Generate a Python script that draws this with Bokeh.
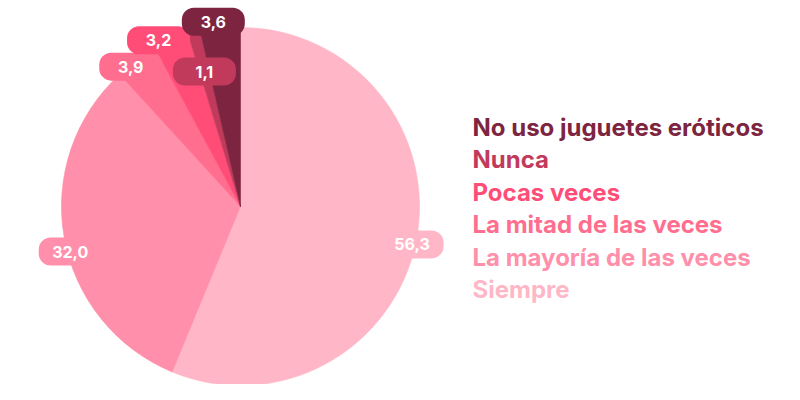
import math
from bokeh.plotting import figure
from bokeh.models import Range1d, ColumnDataSource, Rect
from bokeh.core.properties import value
from bokeh.embed import file_html
from bokeh.resources import INLINE

# ---- data ----
categories = ["Siempre", "La mayoría de las veces", "La mitad de las veces",
              "Pocas veces", "Nunca", "No uso juguetes eróticos"]
values = [56.3, 32.0, 3.9, 3.2, 1.1, 3.6]
value_labels = ["56,3", "32,0", "3,9", "3,2", "1,1", "3,6"]
colors = ["#FFB7C7", "#FF8FAA", "#FF6E8F", "#FF4D78", "#C23A5B", "#7D2540"]

# ---- layout ----
W, H = 784, 384
CX, CY, R = 240, 194, 179
label_dx = [-4, 6, -6, -13, 10, -7]
label_dy = [-3, -14, -6, 1, -38, 7]
BOX_W, BOX_H, BOX_RAD = 63, 28, 12
FONT = "Inter"

p = figure(width=W, height=H, output_backend="svg", toolbar_location=None,
           x_range=Range1d(0, W), y_range=Range1d(400 - H, 400),
           min_border=0)
p.axis.visible = False
p.grid.visible = False
p.outline_line_color = None
p.background_fill_color = "white"
p.border_fill_color = "white"

total = sum(values)
starts, ends, mids = [], [], []
acc = 0.0
for v in values:
    t0 = acc / total * 360.0
    acc += v
    t1 = acc / total * 360.0
    starts.append(90.0 - t0)
    ends.append(90.0 - t1)
    mids.append(90.0 - (t0 + t1) / 2.0)

src = ColumnDataSource(dict(start=starts, end=ends, color=colors, cat=categories))
p.wedge(x=CX, y=CY, radius=R, start_angle="start", end_angle="end",
        start_angle_units="deg", end_angle_units="deg", direction="clock",
        fill_color="color", line_color="color", line_width=0.6, source=src)

lx = [CX + R * math.cos(math.radians(m)) + dx for m, dx in zip(mids, label_dx)]
ly = [CY + R * math.sin(math.radians(m)) + dy for m, dy in zip(mids, label_dy)]
lsrc = ColumnDataSource(dict(x=lx, y=ly, color=colors, txt=value_labels))

if "border_radius" in Rect.properties():
    p.rect(x="x", y="y", width=BOX_W, height=BOX_H, fill_color="color",
           line_color=None, border_radius=BOX_RAD, source=lsrc)
else:
    p.rect(x="x", y="y", width=BOX_W - BOX_H, height=BOX_H, fill_color="color",
           line_color=None, source=lsrc)
    lxl = [x - (BOX_W - BOX_H) / 2 for x in lx]
    lxr = [x + (BOX_W - BOX_H) / 2 for x in lx]
    p.circle(x=lxl, y=ly, radius=BOX_H / 2, fill_color=colors, line_color=None)
    p.circle(x=lxr, y=ly, radius=BOX_H / 2, fill_color=colors, line_color=None)

p.text(x="x", y="y", text="txt", source=lsrc, text_color="white",
       text_font=value(FONT), text_font_style="bold", text_font_size="16px",
       text_align="center", text_baseline="middle")

# legend (reverse order)
leg_txt = list(reversed(categories))
leg_col = list(reversed(colors))
leg_y = [400 - (127 + 32.4 * i) for i in range(len(leg_txt))]
p.text(x=472, y=leg_y, text=leg_txt, text_color=leg_col,
       text_font=value(FONT), text_font_style="bold", text_font_size="24px",
       text_align="left", text_baseline="middle")

open("out.html", "w").write(file_html(p, INLINE))
